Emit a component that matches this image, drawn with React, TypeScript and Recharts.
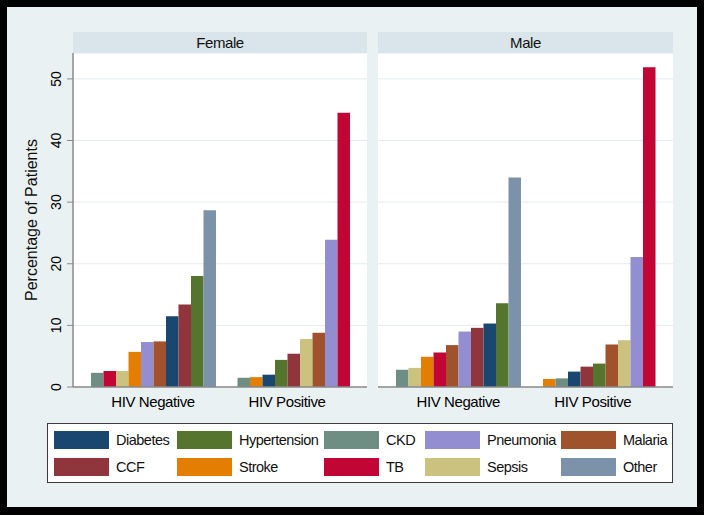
import { BarChart, Bar, XAxis, YAxis, CartesianGrid, Cell } from "recharts";

// legend order: first row, then second row
const DISEASES = ["Diabetes", "Hypertension", "CKD", "Pneumonia", "Malaria", "CCF", "Stroke", "TB", "Sepsis", "Other"];
const COLORS = ["#1a476f", "#55752f", "#6e8e84", "#938dd2", "#a0522d", "#90353b", "#e37e00", "#c10534", "#cac27e", "#7b92a8"];
const GROUPS = ["HIV Negative", "HIV Positive"];
const Y_TICKS = [0, 10, 20, 30, 40, 50];

const FEMALE_NEG = [11.5, 18.0, 2.3, 7.3, 7.4, 13.4, 5.7, 2.6, 2.6, 28.7];
const FEMALE_POS = [2.0, 4.4, 1.5, 23.9, 8.8, 5.4, 1.6, 44.5, 7.8, 0];
const MALE_NEG = [10.3, 13.6, 2.8, 9.0, 6.8, 9.6, 4.9, 5.6, 3.1, 34.0];
const MALE_POS = [2.5, 3.8, 1.4, 21.1, 6.9, 3.3, 1.3, 51.9, 7.6, 0];

const FONT = "'Liberation Sans', Arial, Helvetica, sans-serif";
const OUTER_BG = "#eaf1f3";
const HEADER_BG = "#d9e5ea";
const GRID = "#e3eaed";
const AXIS = "#8a8a8a";

const PANEL_TOP = 32;
const HEADER_H = 21;
const PLOT_H = 334;
const Y_MAX = 54.2;
const Y_AXIS_W = 30;

// Stata sorts bars ascending inside each group, so each group gets its own colour order
function buildRows(neg: number[], pos: number[]) {
  return [neg, pos].map((vals, g) => {
    const order = DISEASES.map((_, i) => i).sort((a, b) => vals[a] - vals[b]);
    const row: Record<string, any> = { group: GROUPS[g], colors: order.map((i) => COLORS[i]) };
    order.forEach((idx, rank) => {
      row[`r${rank}`] = vals[idx];
    });
    return row;
  });
}

function YTick(props: any) {
  const { x, y, payload } = props;
  return (
    <text
      transform={`translate(${x - 4},${y}) rotate(-90)`}
      textAnchor="middle"
      fontSize={14}
      fontFamily={FONT}
      fill="#000"
    >
      {payload.value}
    </text>
  );
}

function Panel({ title, rows, left, width, showY }: { title: string; rows: Record<string, any>[]; left: number; width: number; showY: boolean }) {
  const yW = showY ? Y_AXIS_W : 0;
  return (
    <div style={{ position: "absolute", left: left - yW, top: PANEL_TOP }}>
      <div
        style={{
          position: "absolute",
          left: yW,
          top: 0,
          width,
          height: HEADER_H,
          background: HEADER_BG,
          textAlign: "center",
          lineHeight: `${HEADER_H}px`,
          fontSize: 15,
          letterSpacing: -0.4,
          fontFamily: FONT,
          color: "#111",
        }}
      >
        {title}
      </div>
      <div style={{ position: "absolute", left: 0, top: HEADER_H }}>
        <BarChart
          width={width + yW}
          height={PLOT_H + 32}
          data={rows}
          margin={{ top: 0, right: 0, bottom: 0, left: 0 }}
          barSize={12.5}
          barGap={0}
        >
          <CartesianGrid vertical={false} stroke={GRID} fill="#ffffff" fillOpacity={1} />
          <XAxis
            dataKey="group"
            padding={{ left: 13, right: 13 }}
            tickLine={false}
            axisLine={{ stroke: AXIS, strokeWidth: 1.5 }}
            tick={{ fontSize: 15, fill: "#000", fontFamily: FONT, letterSpacing: -0.4 }}
            tickMargin={3}
            height={32}
            interval={0}
          />
          <YAxis
            hide={!showY}
            width={Y_AXIS_W}
            domain={[0, Y_MAX]}
            ticks={Y_TICKS}
            allowDataOverflow
            tick={<YTick />}
            tickSize={6}
            axisLine={{ stroke: AXIS, strokeWidth: 1.5 }}
            tickLine={{ stroke: AXIS }}
          />
          {DISEASES.map((_, rank) => (
            <Bar key={rank} dataKey={`r${rank}`} isAnimationActive={false}>
              {rows.map((row) => (
                <Cell key={row.group} fill={row.colors[rank]} />
              ))}
            </Bar>
          ))}
        </BarChart>
      </div>
    </div>
  );
}

const LEGEND_COLS = [54, 177, 324, 425, 561];

function LegendBox() {
  return (
    <div
      style={{
        position: "absolute",
        left: 47,
        top: 423,
        width: 626,
        height: 60,
        boxSizing: "border-box",
        border: "1px solid #3a3a3a",
        background: "#fff",
      }}
    >
      {DISEASES.map((name, i) => {
        const col = i % 5;
        const row = Math.floor(i / 5);
        return (
          <div
            key={name}
            style={{
              position: "absolute",
              left: LEGEND_COLS[col] - 48,
              top: row === 0 ? 7 : 34,
              height: 18,
              display: "flex",
              alignItems: "center",
              whiteSpace: "nowrap",
            }}
          >
            <div style={{ width: 55, height: 18, background: COLORS[i] }} />
            <span style={{ marginLeft: 7, fontSize: 14.5, letterSpacing: -0.5, fontFamily: FONT, color: "#111" }}>{name}</span>
          </div>
        );
      })}
    </div>
  );
}

export default function App() {
  const female = buildRows(FEMALE_NEG, FEMALE_POS);
  const male = buildRows(MALE_NEG, MALE_POS);
  return (
    <div style={{ position: "absolute", left: 0, top: 0, width: 704, height: 515, background: "#000" }}>
      <div
        style={{
          position: "absolute",
          left: 7,
          top: 7,
          width: 690,
          height: 500,
          background: OUTER_BG,
        }}
      />
      <div
        style={{
          position: "absolute",
          left: 32,
          top: 220,
          transform: "translate(-50%, -50%) rotate(-90deg)",
          whiteSpace: "nowrap",
          fontSize: 16,
          fontFamily: FONT,
          color: "#111",
        }}
      >
        Percentage of Patients
      </div>
      <Panel title="Female" rows={female} left={73} width={294} showY={true} />
      <Panel title="Male" rows={male} left={378} width={295} showY={false} />
      <LegendBox />
    </div>
  );
}
